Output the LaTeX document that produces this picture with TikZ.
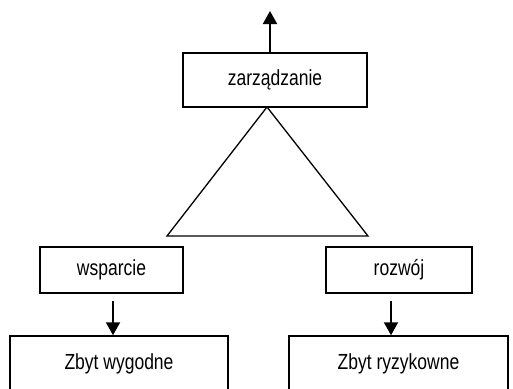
\documentclass[tikz,border=0pt]{standalone}
\usepackage{fontspec}
\setmainfont{Liberation Sans}
\usepackage{graphicx}
\usetikzlibrary{arrows.meta}
\newcommand{\tx}[1]{\scalebox{1}[1.25]{#1}}
\tikzset{
	box/.style={draw,line width=1.5pt,inner sep=0pt,font=\fontsize{17.5}{20}\selectfont},
	arr/.style={line width=2pt,-{Triangle[width=14pt,length=13pt]}}
}

\begin{document}
\begin{tikzpicture}[x=1pt,y=-1pt]
	 		\useasboundingbox (0,0) rectangle (513,388);
	 		
	 		\node[box,minimum width=184pt,minimum height=54pt] (zarz) at (275,80) {\tx{zarządzanie}};
	 		\node[box,minimum width=143pt,minimum height=46pt] (wsp) at (111.5,270) {\tx{wsparcie}};
	 		\node[box,minimum width=146pt,minimum height=46pt] (roz) at (399,270) {\tx{rozwój}};
	 		\node[box,minimum width=218pt,minimum height=56pt] (wyg) at (119,364) {\tx{Zbyt wygodne}};
	 		\node[box,minimum width=219pt,minimum height=56pt] (ryz) at (398.5,364) {\tx{Zbyt ryzykowne}};
	 		
	 		\coordinate (top) at (270,11);
	 		\coordinate (apex) at (267,107);
	 		
			\draw[line width=1.3pt,line join=miter] (apex) -- (167,236) -- (368,236) -- cycle;
			
			\draw[arr] (zarz.north -| top) -- (top);
			\draw[arr,shorten <=7pt] ([xshift=1.5pt]wsp.south) -- ([xshift=-6pt]wyg.north);
			\draw[arr,shorten <=7pt] ([xshift=-8pt]roz.south) -- ([xshift=-7.5pt]ryz.north);
	 	\end{tikzpicture}
\end{document}
